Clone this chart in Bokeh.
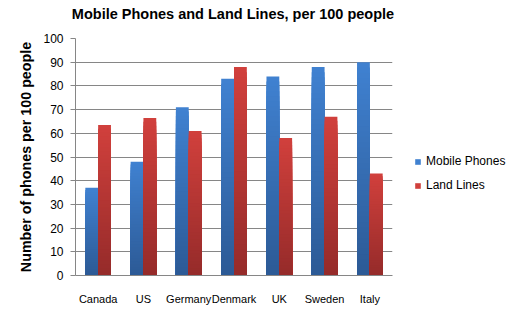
from bokeh.plotting import figure
from bokeh.models import ColumnDataSource, Range1d, FactorRange, Legend, LegendItem, FixedTicker, Div
from bokeh.layouts import column
from bokeh.transform import dodge
from bokeh.embed import file_html
from bokeh.resources import INLINE

title_text = "Mobile Phones and Land Lines, per 100 people"
countries = ["Canada", "US", "Germany", "Denmark", "UK", "Sweden", "Italy"]
mobile = [37, 48, 71, 83, 84, 88, 90]
land = [63.5, 66.5, 61, 88, 58, 67, 43]
series_names = ["Mobile Phones", "Land Lines"]
y_ticks = list(range(0, 101, 10))

BLUE_TOP, BLUE_BOT = (64, 129, 208), (44, 90, 150)
RED_TOP, RED_BOT = (208, 64, 60), (150, 43, 42)
N_SLICES = 40
BAR_W = 0.283


def hexc(c):
    return "#%02x%02x%02x" % tuple(int(round(v)) for v in c)


def gradient_source(values, top_c, bot_c):
    # each slice spans from 0 up to a fraction of the value; drawn tallest first
    xs, tops, cols = [], [], []
    for cat, v in zip(countries, values):
        for i in reversed(range(N_SLICES)):
            t = i / (N_SLICES - 1)
            col = tuple(b + (a - b) * t for a, b in zip(top_c, bot_c))
            xs.append(cat)
            tops.append(v * (i + 1) / N_SLICES)
            cols.append(hexc(col))
    return ColumnDataSource(dict(x=xs, top=tops, color=cols))


header = Div(text=title_text, width=466, height=28, margin=(0, 0, 0, 0),
             styles={"font-family": "Liberation Sans", "font-weight": "bold",
                     "font-size": "14.5px", "text-align": "center",
                     "line-height": "28px", "color": "#000000",
                     "width": "466px", "white-space": "nowrap"})

p = figure(
    x_range=FactorRange(*countries, range_padding=0),
    y_range=Range1d(0, 100),
    width=532, height=301,
    frame_width=317, frame_height=237,
    min_border_left=75, min_border_right=140, min_border_top=10, min_border_bottom=54,
    output_backend="svg", toolbar_location=None, margin=(0, 0, 0, 0),
)
p.outline_line_color = None
p.background_fill_color = "white"
p.border_fill_color = "white"

src_m = gradient_source(mobile, BLUE_TOP, BLUE_BOT)
src_l = gradient_source(land, RED_TOP, RED_BOT)
rm = p.vbar(x=dodge("x", -BAR_W / 2, range=p.x_range), top="top", width=BAR_W,
            fill_color="color", line_color=None, source=src_m)
rl = p.vbar(x=dodge("x", BAR_W / 2, range=p.x_range), top="top", width=BAR_W,
            fill_color="color", line_color=None, source=src_l)

legend = Legend(items=[LegendItem(label=series_names[0], renderers=[rm], index=0),
                       LegendItem(label=series_names[1], renderers=[rl], index=0)],
                location=(22, 83), glyph_width=7, glyph_height=7, label_height=14,
                spacing=10, padding=0, margin=0, label_standoff=5,
                border_line_color=None, background_fill_alpha=0,
                label_text_font="Liberation Sans", label_text_font_size="12px",
                label_text_color="#000000")
p.add_layout(legend, "right")

p.xgrid.grid_line_color = None
p.ygrid.grid_line_color = "#868686"
p.ygrid.grid_line_width = 1

p.yaxis.ticker = FixedTicker(ticks=y_ticks)
p.yaxis.axis_line_color = "#868686"
p.yaxis.major_tick_line_color = "#868686"
p.yaxis.major_tick_out = 5
p.yaxis.major_tick_in = 0
p.yaxis.minor_tick_line_color = None
p.yaxis.major_label_text_font = "Liberation Sans"
p.yaxis.major_label_text_font_size = "12px"
p.yaxis.major_label_text_color = "#000000"
p.yaxis.major_label_standoff = 7
p.yaxis.axis_label = "Number of phones per 100 people"
p.yaxis.axis_label_text_font = "Liberation Sans"
p.yaxis.axis_label_text_font_size = "14.3px"
p.yaxis.axis_label_text_font_style = "bold"
p.yaxis.axis_label_text_color = "#000000"
p.yaxis.axis_label_standoff = 6

p.xaxis.axis_line_color = "#868686"
p.xaxis.major_tick_line_color = None
p.xaxis.minor_tick_line_color = None
p.xaxis.major_label_text_font = "Liberation Sans"
p.xaxis.major_label_text_font_size = "11px"
p.xaxis.major_label_text_color = "#000000"
p.xaxis.major_label_standoff = 11

layout = column(header, p, spacing=0, margin=(0, 0, 0, 0))
open("out.html", "w").write(file_html(layout, INLINE))
